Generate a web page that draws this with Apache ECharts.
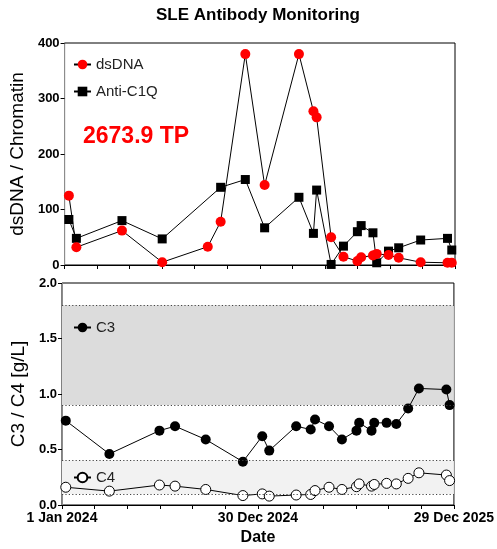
<!DOCTYPE html>
<html>
<head>
<meta charset="utf-8">
<script src="https://cdn.jsdelivr.net/npm/echarts@6/dist/echarts.min.js"></script>
<style>
  html, body { margin: 0; padding: 0; background: #fff; }
  #chart { width: 497px; height: 549px; }
</style>
</head>
<body>
<div id="chart"></div>
<script>
// antibody visits (top panel)
const antibodyDates = ['2024-01-09', '2024-01-23', '2024-04-17', '2024-07-01', '2024-09-24', '2024-10-18',
  '2024-12-03', '2025-01-08', '2025-03-13', '2025-04-09', '2025-04-15', '2025-05-12', '2025-06-04',
  '2025-06-30', '2025-07-07', '2025-07-29', '2025-08-05', '2025-08-27', '2025-09-15', '2025-10-26',
  '2025-12-15', '2025-12-23']
const dsDNA = [125, 32, 62, 5, 33, 78, 380, 144, 380, 277, 266, 50, 15, 7, 14, 17, 20, 18, 13, 5, 4, 4]
const antiC1Q = [82, 48, 80, 47, null, 140, 154, 67, 122, 57, 135, 1, 34, 60, 71, 58, 4, 25, 31, 45, 48, 27]

// complement visits (bottom panel)
const complementDates = ['2024-01-08', '2024-03-29', '2024-06-30', '2024-07-29', '2024-09-24', '2024-12-02',
  '2025-01-07', '2025-01-20', '2025-03-11', '2025-04-07', '2025-04-15', '2025-05-11', '2025-06-04',
  '2025-07-01', '2025-07-06', '2025-07-29', '2025-08-03', '2025-08-26', '2025-09-13', '2025-10-05',
  '2025-10-25', '2025-12-15', '2025-12-21']
const c3 = [0.76, 0.46, 0.67, 0.71, 0.59, 0.39, 0.62, 0.49, 0.71, 0.68, 0.77, 0.71, 0.59, 0.67, 0.74,
  0.67, 0.74, 0.74, 0.73, 0.87, 1.05, 1.04, 0.90]
const c4 = [0.16, 0.125, 0.18, 0.17, 0.14, 0.085, 0.1, 0.08, 0.09, 0.095, 0.13, 0.16, 0.14, 0.165, 0.19,
  0.17, 0.185, 0.195, 0.19, 0.24, 0.29, 0.27, 0.22]

// normal ranges
const c3Range = [0.9, 1.8]
const c4Range = [0.1, 0.4]

// x ticks
const xTickDates = ['2024-01-01', '2024-12-30', '2025-12-29']
const xTickLabels = ['1 Jan 2024', '30 Dec 2024', '29 Dec 2025']

const dsDNATotal = '2673.9 TP'
const c3Total = '910.8 TP'

const FONT = 'Liberation Sans, Arial, sans-serif'
const dayOf = d => Math.round((Date.parse(d) - Date.parse(xTickDates[0])) / 86400000)
const xTickDays = xTickDates.map(dayOf)
const pairs = (dates, vals) => dates.map((d, i) => [dayOf(d), vals[i]]).filter(p => p[1] != null)

const chart = echarts.init(document.getElementById('chart'))

const xAxisBase = {
  type: 'value',
  min: xTickDays[0],
  max: xTickDays[xTickDays.length - 1],
  interval: xTickDays[1] - xTickDays[0],
  axisLine: { lineStyle: { color: '#000', width: 1 } },
  axisTick: { length: 4, lineStyle: { color: '#000' } },
  minorTick: { show: true, splitNumber: 6, length: 4, lineStyle: { color: '#000' } },
  splitLine: { show: false }
}

const yAxisBase = {
  type: 'value',
  nameLocation: 'middle',
  nameGap: 31,
  nameTextStyle: { fontFamily: FONT, fontSize: 19, color: '#000' },
  axisLine: { show: true, lineStyle: { color: '#8c8c8c', width: 1 } },
  axisTick: { show: true, length: 4, lineStyle: { color: '#000' } },
  axisLabel: { fontFamily: FONT, fontSize: 13, fontWeight: 'bold', color: '#000', margin: 5 },
  splitLine: { show: false }
}

const legendBase = {
  orient: 'vertical',
  left: 73,
  padding: 0,
  itemWidth: 17,
  itemHeight: 12,
  selectedMode: false,
  textStyle: { fontFamily: FONT, fontSize: 15, color: '#222' }
}

const option = {
  animation: false,
  backgroundColor: '#fff',
  title: {
    text: 'SLE Antibody Monitoring',
    left: 258,
    top: 7,
    padding: 0,
    textAlign: 'center',
    textStyle: { fontFamily: FONT, fontSize: 17, fontWeight: 'bold', color: '#000' }
  },
  grid: [
    { left: 62, top: 43, width: 393, height: 222, show: true, borderColor: '#000', borderWidth: 1, backgroundColor: 'transparent' },
    { left: 62, top: 283, width: 393, height: 222, show: true, borderColor: '#000', borderWidth: 1, backgroundColor: 'transparent' }
  ],
  legend: [
    Object.assign({}, legendBase, { top: 57, data: ['dsDNA'] }),
    Object.assign({}, legendBase, { top: 84, data: ['Anti-C1Q'] }),
    Object.assign({}, legendBase, { top: 320, data: ['C3'] }),
    Object.assign({}, legendBase, { top: 470, data: ['C4'] })
  ],
  xAxis: [
    Object.assign({}, xAxisBase, { gridIndex: 0, axisLabel: { show: false } }),
    Object.assign({}, xAxisBase, {
      gridIndex: 1,
      name: 'Date',
      nameLocation: 'middle',
      nameGap: 25,
      nameTextStyle: { fontFamily: FONT, fontSize: 16, fontWeight: 'bold', color: '#000' },
      axisLabel: {
        fontFamily: FONT, fontSize: 14, fontWeight: 'bold', color: '#000', margin: 6,
        showMinLabel: true, showMaxLabel: true,
        formatter: v => {
          const i = xTickDays.indexOf(v)
          return i >= 0 ? xTickLabels[i] : ''
        }
      }
    })
  ],
  yAxis: [
    Object.assign({}, yAxisBase, { gridIndex: 0, name: 'dsDNA / Chromatin', min: 0, max: 400, interval: 100 }),
    Object.assign({}, yAxisBase, {
      gridIndex: 1, name: 'C3 / C4 [g/L]', min: 0, max: 2, interval: 0.5,
      axisLabel: Object.assign({}, yAxisBase.axisLabel, { formatter: v => v.toFixed(1) })
    })
  ],
  graphic: [
    { type: 'text', x: 83, y: 137, style: { text: dsDNATotal, fill: '#ff0000', font: 'bold 23px ' + FONT, verticalAlign: 'middle' } },
    { type: 'text', x: 83, y: 365, style: { text: c3Total, fill: '#ff0000', font: 'bold 23px ' + FONT, verticalAlign: 'middle' } }
  ],
  series: [
    {
      name: 'Anti-C1Q',
      type: 'line',
      xAxisIndex: 0,
      yAxisIndex: 0,
      data: pairs(antibodyDates, antiC1Q),
      symbol: 'rect',
      symbolSize: 9,
      itemStyle: { color: '#000' },
      lineStyle: { color: '#000', width: 1 },
      z: 2
    },
    {
      name: 'dsDNA',
      type: 'line',
      xAxisIndex: 0,
      yAxisIndex: 0,
      data: pairs(antibodyDates, dsDNA),
      symbol: 'circle',
      symbolSize: 10,
      itemStyle: { color: '#ff0000' },
      lineStyle: { color: '#000', width: 1 },
      z: 3
    },
    {
      name: 'C3',
      type: 'line',
      xAxisIndex: 1,
      yAxisIndex: 1,
      data: pairs(complementDates, c3),
      symbol: 'circle',
      symbolSize: 10,
      itemStyle: { color: '#000' },
      lineStyle: { color: '#000', width: 1 },
      z: 3,
      markArea: {
        silent: true,
        data: [
          [{ yAxis: c3Range[0], itemStyle: { color: '#dcdcdc' } }, { yAxis: c3Range[1] }],
          [{ yAxis: c4Range[0], itemStyle: { color: '#f2f2f2' } }, { yAxis: c4Range[1] }]
        ]
      },
      markLine: {
        silent: true,
        symbol: ['none', 'none'],
        label: { show: false },
        lineStyle: { color: '#444', width: 1.2, type: [1.2, 2.2] },
        data: [{ yAxis: c3Range[0] }, { yAxis: c3Range[1] }, { yAxis: c4Range[0] }, { yAxis: c4Range[1] }]
      }
    },
    {
      name: 'C4',
      type: 'line',
      xAxisIndex: 1,
      yAxisIndex: 1,
      data: pairs(complementDates, c4),
      symbol: 'circle',
      symbolSize: 10,
      itemStyle: { color: '#fff', borderColor: '#000', borderWidth: 1 },
      lineStyle: { color: '#000', width: 1 },
      z: 3
    }
  ]
}

chart.setOption(option)
</script>
</body>
</html>
